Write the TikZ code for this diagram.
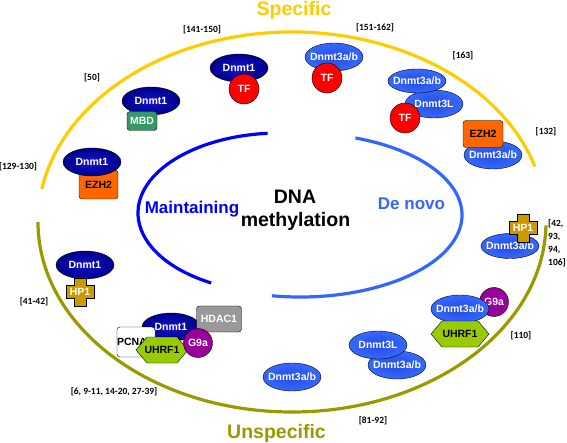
\documentclass[tikz,border=0pt]{standalone}
\usepackage{fontspec}
\setmainfont{Liberation Sans}
\newfontfamily\reffam{Carlito}
\usepackage{tikz}
\usetikzlibrary{shapes.geometric}

\definecolor{specyellow}{RGB}{255,204,0}
\definecolor{unspecolive}{RGB}{153,153,0}
\definecolor{maintblue}{RGB}{0,0,255}
\definecolor{novoblue}{RGB}{51,102,255}
\definecolor{dnmtnavy}{RGB}{0,0,140}
\definecolor{dnmtcore}{RGB}{20,20,205}
\definecolor{threeblue}{RGB}{55,105,255}
\definecolor{threecore}{RGB}{35,75,225}
\definecolor{tfred}{RGB}{255,0,0}
\definecolor{ezhorange}{RGB}{255,102,0}
\definecolor{mbdgreen}{RGB}{51,153,102}
\definecolor{hdacgrey}{RGB}{153,153,153}
\definecolor{uhrfgreen}{RGB}{153,204,0}
\definecolor{gninepurple}{RGB}{153,0,153}
\definecolor{hpgold}{RGB}{204,153,0}

\newcommand\protfont{\fontsize{10.5}{12}\selectfont\bfseries}
\newcommand\reffont{\reffam\fontsize{9.5}{13}\selectfont\bfseries}
\newcommand\bigfont{\fontsize{19.5}{23}\selectfont\bfseries}

% HP1 cross: name, centre
\newcommand\hpcross[2]{%
  \filldraw[hpshape] (#2) ++(-6,-14) -- ++(12,0) -- ++(0,7.5) -- ++(8,0) -- ++(0,13)
    -- ++(-8,0) -- ++(0,7.5) -- ++(-12,0) -- ++(0,-7.5) -- ++(-8,0) -- ++(0,-13) -- ++(8,0) -- cycle;
  \node[font=\protfont, text=white] (#1) at (#2) {HP1};}
% UHRF1 hexagon: name, centre, half width
\newcommand\uhrfhex[3]{%
  \filldraw[hexshape] (#2) ++(-#3,0) -- ++(11,-13) -- ++({2*#3-22},0) -- ++(11,13)
    -- ++(-11,13) -- ++({22-2*#3},0) -- cycle;
  \node[font=\protfont] (#1) at (#2) {UHRF1};}

\tikzset{
  dnmtone/.style={ellipse, draw=black, shade, inner color=dnmtcore, outer color=dnmtnavy,
    inner xsep=-7pt, inner ysep=-2pt, minimum width=58pt, minimum height=28pt,
    text=white, font=\protfont},
  dnmtthree/.style={dnmtone, inner color=threecore, outer color=threeblue},
  tfball/.style={circle, draw=black, fill=tfred, inner sep=0pt, minimum size=30pt,
    text=white, font=\protfont},
  gnine/.style={circle, draw=black, fill=gninepurple, inner sep=0pt, minimum size=29pt,
    text=white, font=\protfont},
  protbox/.style={rectangle, rounded corners=3pt, draw=black, inner sep=0pt, font=\protfont},
  hexshape/.style={draw=black, fill=uhrfgreen},
  hpshape/.style={draw=black, fill=hpgold},
  refnum/.style={font=\reffont, text=black},
  arcline/.style={line width=3.2pt},
}

\begin{document}
\begin{tikzpicture}[x=1pt,y=-1pt]
  \useasboundingbox (0,0) rectangle (567,443);
  % Outer ring
  \draw[arcline, specyellow] (292,222) ++(-17:254 and 190)
    arc[start angle=-17, end angle=-170, x radius=254, y radius=190];
  \draw[arcline, unspecolive] (292,222) ++(180:254 and 190)
    arc[start angle=180, end angle=1, x radius=254, y radius=190];
  \node[font=\bigfont, text=specyellow, anchor=base] (spec) at (294,16) {Specific};
  \node[font=\bigfont, text=unspecolive, anchor=base] (unspec) at (276.5,438) {Unspecific};
  % Inner arcs
  \draw[arcline, maintblue] (280,213) ++(-95:142 and 80)
    arc[start angle=-95, end angle=-241, x radius=142, y radius=80];
  \draw[arcline, novoblue] (300,215) ++(-70:162 and 82)
    arc[start angle=-70, end angle=100, x radius=162, y radius=82];
  \node[font=\bigfont, anchor=base] (dna) at (295,204) {DNA};
  \node[font=\bigfont, anchor=base] (meth) at (295.5,227) {methylation};
  \node[font=\fontsize{17}{20}\selectfont\bfseries, text=maintblue, anchor=base] (maint) at (192,214) {Maintaining};
  \node[font=\fontsize{17}{20}\selectfont\bfseries, text=novoblue, anchor=base] (novo) at (411.5,210) {De novo};

  % Dnmt1 + MBD
  \node[dnmtone] (dnmtmbd) at (151,101) {Dnmt1};
  \node[protbox, fill=mbdgreen, text=white, minimum width=30pt, minimum height=19pt] (mbd) at (142,121) {MBD};
  % Dnmt1 + TF
  \node[dnmtone] (dnmttf) at (239,68) {Dnmt1};
  \node[tfball] (tfa) at (244,89) {TF};
  % Dnmt3a/b + TF
  \node[dnmtthree] (threetf) at (334,57) {Dnmt3a/b};
  \node[tfball] (tfb) at (327,78) {TF};
  % Dnmt3a/b + Dnmt3L + TF
  \node[dnmtthree] (threel) at (434,104) {Dnmt3L};
  \node[dnmtthree, minimum height=24pt] (threeab) at (417,81) {Dnmt3a/b};
  \node[tfball] (tfc) at (405,118) {TF};
  % Dnmt3a/b + EZH2
  \node[dnmtthree] (threeezh) at (493,155) {Dnmt3a/b};
  \node[protbox, fill=ezhorange, minimum width=40pt, minimum height=27pt] (ezha) at (483,134) {EZH2};
  % Dnmt1 + EZH2
  \node[protbox, fill=ezhorange, minimum width=39pt, minimum height=29pt] (ezhb) at (98.5,184.5) {EZH2};
  \node[dnmtone] (dnmtezh) at (92,162) {Dnmt1};
  % Dnmt1 + HP1
  \node[dnmtone] (dnmthp) at (85,265) {Dnmt1};
  \hpcross{hpa}{80,292}
  % Maintenance complex
  \node[dnmtone] (dnmtcx) at (171,327) {Dnmt1};
  \node[protbox, fill=hdacgrey, text=white, minimum width=45pt, minimum height=26pt] (hdac) at (219,319) {HDAC1};
  \node[protbox, fill=white, text width=38pt, align=left, minimum height=30pt] (pcna) at (136,342) {PCNA};
  \uhrfhex{uhrfa}{162,350}{26}
  \node[gnine] (gnina) at (198,343) {G9a};
  % Dnmt3a/b + HP1
  \node[dnmtthree, minimum height=25pt] (threehp) at (510,246) {Dnmt3a/b};
  \hpcross{hpb}{523,228}
  % Dnmt3a/b + G9a + UHRF1
  \node[gnine] (gninb) at (494,302) {G9a};
  \node[dnmtthree] (threeg) at (460,309) {Dnmt3a/b};
  \uhrfhex{uhrfb}{460,334}{29}
  % Dnmt3L + Dnmt3a/b
  \node[dnmtthree] (threelow) at (397,365) {Dnmt3a/b};
  \node[dnmtthree] (threelb) at (378,345) {Dnmt3L};
  % Dnmt3a/b alone
  \node[dnmtthree] (threesolo) at (292,377) {Dnmt3a/b};

  % References
  \node[refnum] (rmbd) at (92,78) {[50]};
  \node[refnum] (rtfa) at (202,30) {[141-150]};
  \node[refnum] (rtfb) at (375,28) {[151-162]};
  \node[refnum] (rtfc) at (463,56) {[163]};
  \node[refnum] (rezha) at (546,132) {[132]};
  \node[refnum] (rezhb) at (18,167) {[129-130]};
  \node[refnum, align=left, anchor=north west, inner sep=0pt] (rhpb) at (548,219) {[42,\\93,\\94,\\106]};
  \node[refnum] (rhpa) at (34,302) {[41-42]};
  \node[refnum] (rcx) at (114,392) {[6, 9-11, 14-20, 27-39]};
  \node[refnum] (rlow) at (373,421) {[81-92]};
  \node[refnum] (rg) at (521,336) {[110]};
\end{tikzpicture}
\end{document}
